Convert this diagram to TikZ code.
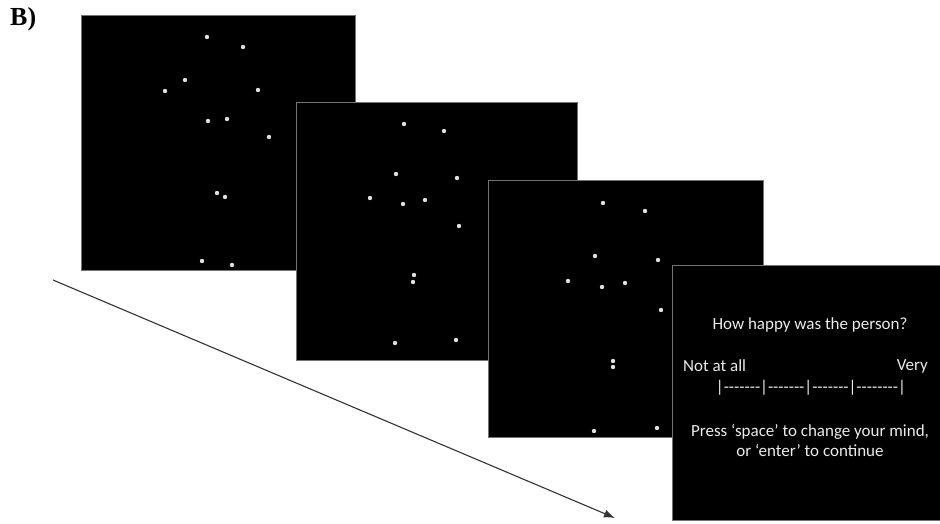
\documentclass[tikz,border=0pt]{standalone}
\usepackage{fontspec}
\usetikzlibrary{arrows.meta}
\newfontfamily\screenfont{Carlito}
\newfontfamily\scalefont{Carlito}[Ligatures=TeXOff]
\newfontfamily\labelfont{Liberation Serif}
\begin{document}
\begin{tikzpicture}[
    x=1pt,
    y=-1pt,
    >={Latex[length=11pt,width=8pt]},
    screen/.style={
        fill=black,
        draw=black!55,
        very thin,
        anchor=north west,
        inner sep=0pt
    },
    dot/.style={
        fill=black!12
    },
    screentext/.style={
        font=\screenfont\fontsize{17}{20}\selectfont,
        text=black!8,
        inner sep=0pt,
        align=center
    },
    timeline/.style={
        ->,
        draw=black!80,
        line width=1.1pt
    }
]

\useasboundingbox (0,0) rectangle (940,524);

% ==================================================
% Panel label
% ==================================================

\node[font=\labelfont\bfseries\fontsize{26}{30}\selectfont, anchor=north west, inner sep=0pt] (label) at (10,7)
    {B)};

% ==================================================
% Stimulus screens (point-light frames)
% ==================================================

\node[screen, minimum width=274, minimum height=255] (frameA) at (81,15) {};
\foreach \px/\py in {207/37, 243/47, 185/80, 165/91, 258/90, 208/121, 227/119,
                     269/137, 217/193, 225/197, 202/261, 232/265}
    \fill[dot] (\px,\py) circle (2.2);

\node[screen, minimum width=281, minimum height=258] (frameB) at (296,102) {};
\foreach \px/\py in {404/124, 444/131, 396/174, 457/178, 370/198, 403/204, 425/200,
                     459/226, 414/275, 413/282, 395/343, 456/340}
    \fill[dot] (\px,\py) circle (2.2);

\node[screen, minimum width=275, minimum height=257] (frameC) at (488,180) {};
\foreach \px/\py in {603/203, 645/211, 595/256, 658/260, 568/281, 602/287, 625/283,
                     661/310, 613/361, 613/367, 594/431, 657/428}
    \fill[dot] (\px,\py) circle (2.2);

% ==================================================
% Rating screen
% ==================================================

\node[screen, minimum width=268, minimum height=255] (rating) at (672,265) {};

\node[screentext] (question) at (810,325)
    {How happy was the person?};

\node[screentext, anchor=west] (lowend) at (683,366)
    {Not at all};

\node[screentext, anchor=east] (highend) at (928,366)
    {Very};

\node[screentext, font=\scalefont\fontsize{17}{20}\selectfont] (scale) at (811,388)
    {|-------|-------|-------|--------|};

\node[screentext] (prompt) at (810,440)
    {Press ‘space’ to change your mind,\\or ‘enter’ to continue};

% ==================================================
% Time arrow
% ==================================================

\coordinate (timestart) at (53,280);
\coordinate (timeend) at (615,518);

\draw[timeline] (timestart) -- (timeend);

\end{tikzpicture}
\end{document}
